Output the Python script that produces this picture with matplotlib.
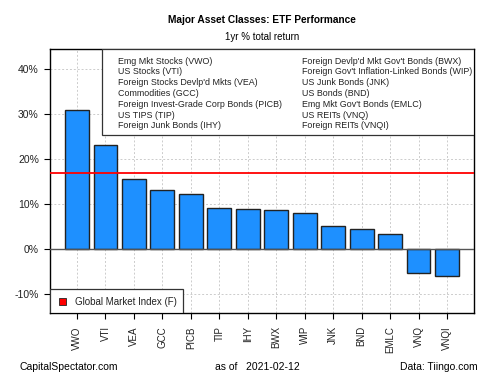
import matplotlib
matplotlib.use("Agg")
import matplotlib.pyplot as plt
from matplotlib.patches import Rectangle
from matplotlib.ticker import FuncFormatter

plt.rcParams['font.family'] = ['Liberation Sans', 'DejaVu Sans']

tickers = ["VWO", "VTI", "VEA", "GCC", "PICB", "TIP", "IHY", "BWX",
           "WIP", "JNK", "BND", "EMLC", "VNQ", "VNQI"]
returns = [31.0, 23.2, 15.5, 13.2, 12.1, 9.0, 8.8, 8.55,
           7.9, 5.0, 4.45, 3.4, -5.3, -6.1]
gmi = 16.8

legend_left = ["Emg Mkt Stocks (VWO)", "US Stocks (VTI)", "Foreign Stocks Devlp'd Mkts (VEA)",
               "Commodities (GCC)", "Foreign Invest-Grade Corp Bonds (PICB)", "US TIPS (TIP)",
               "Foreign Junk Bonds (IHY)"]
legend_right = ["Foreign Devlp'd Mkt Gov't Bonds (BWX)", "Foreign Gov't Inflation-Linked Bonds (WIP)",
                "US Junk Bonds (JNK)", "US Bonds (BND)", "Emg Mkt Gov't Bonds (EMLC)",
                "US REITs (VNQ)", "Foreign REITs (VNQI)"]

fig = plt.figure(figsize=(5, 3.75), dpi=100)
ax = fig.add_axes([0.1, 0.1653, 0.848, 0.704])

x = list(range(len(tickers)))
ax.set_axisbelow(True)
ax.grid(True, color='#cccccc', linestyle=(0, (2, 2)), linewidth=0.7)
ax.bar(x, returns, width=0.84, color='#1E90FF', edgecolor='#222222', linewidth=1.0, zorder=2)
ax.axhline(0, color='#555555', linewidth=1.0, zorder=3)
ax.axhline(gmi, color='red', linewidth=1.3, zorder=4)

ax.set_xlim(-0.95, len(tickers) - 1 + 0.95)
ax.set_ylim(-14.3, 44.5)
ax.set_yticks([-10, 0, 10, 20, 30, 40])
ax.yaxis.set_major_formatter(FuncFormatter(lambda v, p: f"{v:.0f}%"))
ax.set_xticks(x)
ax.set_xticklabels(tickers, rotation=90, fontsize=7, color='#222222')
ax.tick_params(axis='y', labelsize=7.5, length=4.5, width=0.8, labelcolor='#222222')
ax.tick_params(axis='x', length=4.5, width=0.8, pad=5)
for s in ax.spines.values():
    s.set_linewidth(1.0)

# top-right legend box
ax.add_patch(Rectangle((0.1226, 0.674), 1 - 0.1226, 0.326, transform=ax.transAxes,
                       facecolor='white', edgecolor='#333333', linewidth=0.9, zorder=5))
for i, (l, r) in enumerate(zip(legend_left, legend_right)):
    yy = (313 - (61 + i * 10.8)) / 264
    ax.text(0.16, yy, l, transform=ax.transAxes, fontsize=6.4, va='center', color='#222222', zorder=6)
    ax.text(0.594, yy, r, transform=ax.transAxes, fontsize=6.4, va='center', color='#222222', zorder=6)

# bottom-left legend box
ax.add_patch(Rectangle((0, 0), 0.314, 0.091, transform=ax.transAxes,
                       facecolor='white', edgecolor='#333333', linewidth=0.9, zorder=5))
ax.add_patch(Rectangle((0.021, 0.030), 0.016, 0.026, transform=ax.transAxes,
                       facecolor='red', edgecolor='#222222', linewidth=0.6, zorder=6))
ax.text(0.059, 0.042, "Global Market Index (F)", transform=ax.transAxes, fontsize=7,
        va='center', color='#222222', zorder=6)

fig.text(0.524, 0.947, "Major Asset Classes: ETF Performance", ha='center', va='center',
         fontsize=7.3, fontweight='bold')
fig.text(0.524, 0.901, "1yr % total return", ha='center', va='center', fontsize=7)
fig.text(0.04, 0.021, "CapitalSpectator.com", ha='left', va='center', fontsize=7.5)
fig.text(0.514, 0.021, "as of   2021-02-12", ha='center', va='center', fontsize=7.5)
fig.text(0.956, 0.021, "Data: Tiingo.com", ha='right', va='center', fontsize=7.5)

fig.savefig("out.png", dpi=100)
